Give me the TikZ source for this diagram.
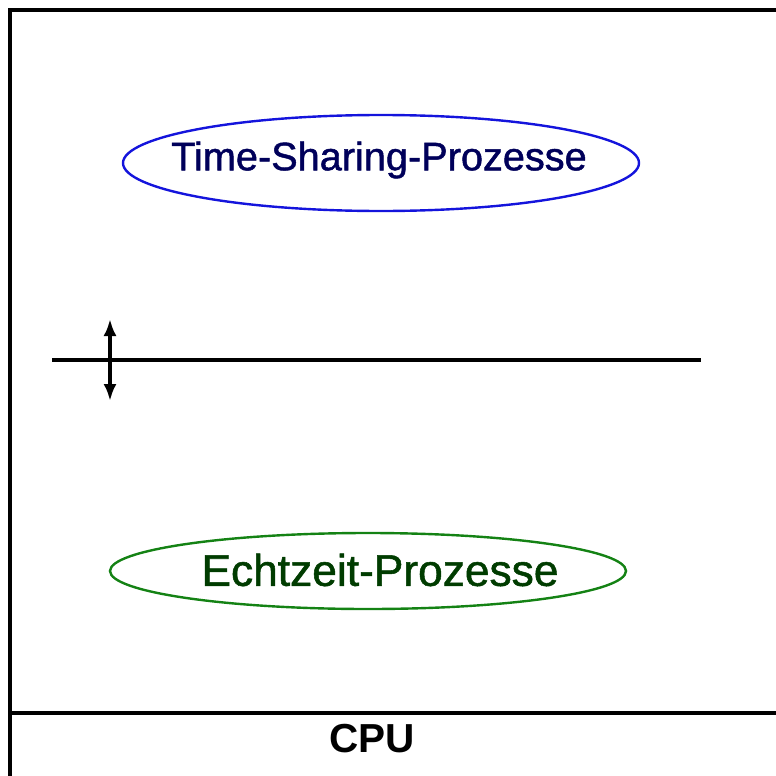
\documentclass[tikz,border=0pt]{standalone}
\usepackage{fontspec}
\setmainfont{Liberation Sans}
\newfontfamily\heavy[FakeBold=1.2]{Liberation Sans}
\usetikzlibrary{arrows.meta}
\definecolor{tsblue}{RGB}{20,20,220}
\definecolor{tstext}{RGB}{0,0,90}
\definecolor{ezgreen}{RGB}{20,130,20}
\definecolor{eztext}{RGB}{0,60,0}
\tikzset{
  frameline/.style={line width=3.5pt,black},
  ell/.style={line width=2.4pt},
  lbl/.style={inner sep=0pt,anchor=center},
  tip/.style={Latex[length=17pt,width=13pt]}
}
\begin{document}
\begin{tikzpicture}[x=1pt,y=-1pt]
\useasboundingbox (0,0) rectangle (776,776);
\draw[frameline] (10,776) -- (10,10) -- (776,10);
\draw[frameline] (10,713) -- (776,713);
\draw[ell,tsblue] (381,163) ellipse [x radius=258,y radius=48];
\node[lbl,text=tstext,font=\heavy\fontsize{39.7}{44}\selectfont] (ts) at (379,160) {Time-Sharing-Prozesse};
\draw[ell,ezgreen] (368,571) ellipse [x radius=258,y radius=38];
\node[lbl,text=eztext,font=\heavy\fontsize{44.3}{48}\selectfont] (ez) at (380,570) {Echtzeit-Prozesse};
\coordinate (la) at (52,360);
\coordinate (lb) at (701,360);
\draw[line width=3.5pt] (la) -- (lb);
\coordinate (at) at (110,319);
\coordinate (ab) at (110,401);
\draw[line width=3.5pt,{Latex[length=17pt,width=13pt]}-{Latex[length=17pt,width=13pt]}] (at) -- (ab);
\node[lbl,font=\fontsize{40.5}{44}\selectfont\bfseries] (cpu) at (372,739) {CPU};
\end{tikzpicture}
\end{document}
